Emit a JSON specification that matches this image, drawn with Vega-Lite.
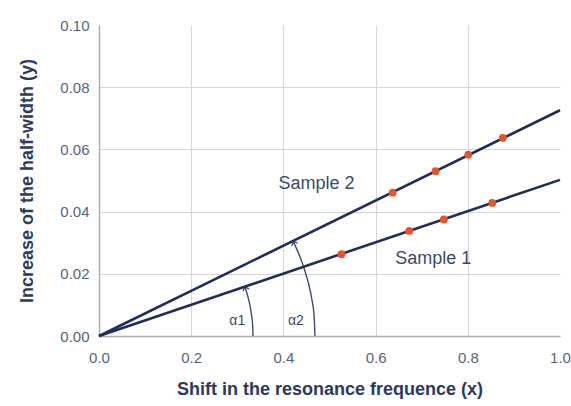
{
  "$schema": "https://vega.github.io/schema/vega-lite/v6.json",
  "width": 461,
  "height": 311,
  "autosize": {"type": "none"},
  "padding": {"left": 99, "top": 25, "right": 11, "bottom": 70},
  "background": "white",
  "config": {
    "view": {"stroke": null},
    "font": "Liberation Sans"
  },
  "datasets": {
    "lines": [
      {"sample": "Sample 1", "x": 0, "y": 0},
      {"sample": "Sample 1", "x": 1.0, "y": 0.0502},
      {"sample": "Sample 2", "x": 0, "y": 0},
      {"sample": "Sample 2", "x": 1.0, "y": 0.0726}
    ],
    "points": [
      {"sample": "Sample 2", "x": 0.637, "y": 0.0461},
      {"sample": "Sample 2", "x": 0.730, "y": 0.0530},
      {"sample": "Sample 2", "x": 0.801, "y": 0.0583},
      {"sample": "Sample 2", "x": 0.876, "y": 0.0637},
      {"sample": "Sample 1", "x": 0.526, "y": 0.0263},
      {"sample": "Sample 1", "x": 0.673, "y": 0.0338},
      {"sample": "Sample 1", "x": 0.748, "y": 0.0375},
      {"sample": "Sample 1", "x": 0.853, "y": 0.0428}
    ],
    "labels": [
      {"text": "Sample 2", "x": 0.472, "y": 0.0488},
      {"text": "Sample 1", "x": 0.725, "y": 0.0248}
    ],
    "alphas": [
      {"text": "α1", "x": 0.300, "y": 0.0048},
      {"text": "α2", "x": 0.427, "y": 0.0048}
    ],
    "arcs": [
      {"arc": "a1", "i": 0, "x": 0.3341, "y": 0.0},
      {"arc": "a1", "i": 1, "x": 0.3333, "y": 0.00346},
      {"arc": "a1", "i": 2, "x": 0.3308, "y": 0.00689},
      {"arc": "a1", "i": 3, "x": 0.3268, "y": 0.01030},
      {"arc": "a1", "i": 4, "x": 0.3211, "y": 0.01365},
      {"arc": "a1", "i": 5, "x": 0.3166, "y": 0.01580},
      {"arc": "a2", "i": 0, "x": 0.4685, "y": 0.0},
      {"arc": "a2", "i": 1, "x": 0.4668, "y": 0.00606},
      {"arc": "a2", "i": 2, "x": 0.4614, "y": 0.01206},
      {"arc": "a2", "i": 3, "x": 0.4526, "y": 0.01797},
      {"arc": "a2", "i": 4, "x": 0.4403, "y": 0.02375},
      {"arc": "a2", "i": 5, "x": 0.4215, "y": 0.03034}
    ],
    "tip1": [{"x": 0.3166, "y": 0.01580}],
    "tip2": [{"x": 0.4215, "y": 0.03034}]
  },
  "encoding": {
    "x": {
      "field": "x", "type": "quantitative",
      "scale": {"domain": [0, 1.0], "nice": false},
      "axis": {
        "title": "Shift in the resonance frequence (x)",
        "values": [0, 0.2, 0.4, 0.6, 0.8, 1.0],
        "format": ".1f",
        "grid": true, "gridColor": "#d3d6db", "gridWidth": 1,
        "gridOpacity": {"condition": {"test": "datum.value >= 1", "value": 0}, "value": 1},
        "domainColor": "#a9adb5", "domainWidth": 1.5,
        "ticks": false, "labelPadding": 14, "labelFlush": false,
        "labelFontSize": 15, "labelColor": "#56647b",
        "titleFontSize": 18, "titleFontWeight": "bold", "titleColor": "#2b3a5e",
        "titlePadding": 15
      }
    },
    "y": {
      "field": "y", "type": "quantitative",
      "scale": {"domain": [0, 0.1], "nice": false},
      "axis": {
        "title": "Increase of the half-width (y)",
        "values": [0, 0.02, 0.04, 0.06, 0.08, 0.1],
        "format": ".2f",
        "grid": true, "gridColor": "#d3d6db", "gridWidth": 1,
        "gridOpacity": {"condition": {"test": "datum.value >= 0.1", "value": 0}, "value": 1},
        "domainColor": "#a9adb5", "domainWidth": 1.5,
        "ticks": false, "labelPadding": 10, "labelFlush": false,
        "labelFontSize": 15, "labelColor": "#56647b",
        "titleFontSize": 18, "titleFontWeight": "bold", "titleColor": "#2b3a5e",
        "titlePadding": 23
      }
    }
  },
  "layer": [
    {
      "data": {"name": "arcs"},
      "mark": {"type": "line", "color": "#3d4c6e", "strokeWidth": 1.4, "interpolate": "monotone"},
      "encoding": {"detail": {"field": "arc"}, "order": {"field": "i"}}
    },
    {
      "data": {"name": "tip1"},
      "mark": {"type": "point", "shape": "M-1,1L0,0L1,1", "filled": false, "color": "#3d4c6e", "strokeWidth": 1.4, "size": 40, "angle": 341, "opacity": 1}
    },
    {
      "data": {"name": "tip2"},
      "mark": {"type": "point", "shape": "M-1,1L0,0L1,1", "filled": false, "color": "#3d4c6e", "strokeWidth": 1.4, "size": 40, "angle": 334, "opacity": 1}
    },
    {
      "data": {"name": "lines"},
      "mark": {"type": "line", "color": "#1f2d5c", "strokeWidth": 2.6},
      "encoding": {"detail": {"field": "sample"}}
    },
    {
      "data": {"name": "points"},
      "mark": {"type": "circle", "color": "#e5542a", "size": 60, "opacity": 1}
    },
    {
      "data": {"name": "labels"},
      "mark": {"type": "text", "fontSize": 18, "color": "#3b4a6b", "align": "center", "baseline": "middle"},
      "encoding": {"text": {"field": "text"}}
    },
    {
      "data": {"name": "alphas"},
      "mark": {"type": "text", "fontSize": 14, "color": "#3b4a6b", "align": "center", "baseline": "middle"},
      "encoding": {"text": {"field": "text"}}
    }
  ]
}
